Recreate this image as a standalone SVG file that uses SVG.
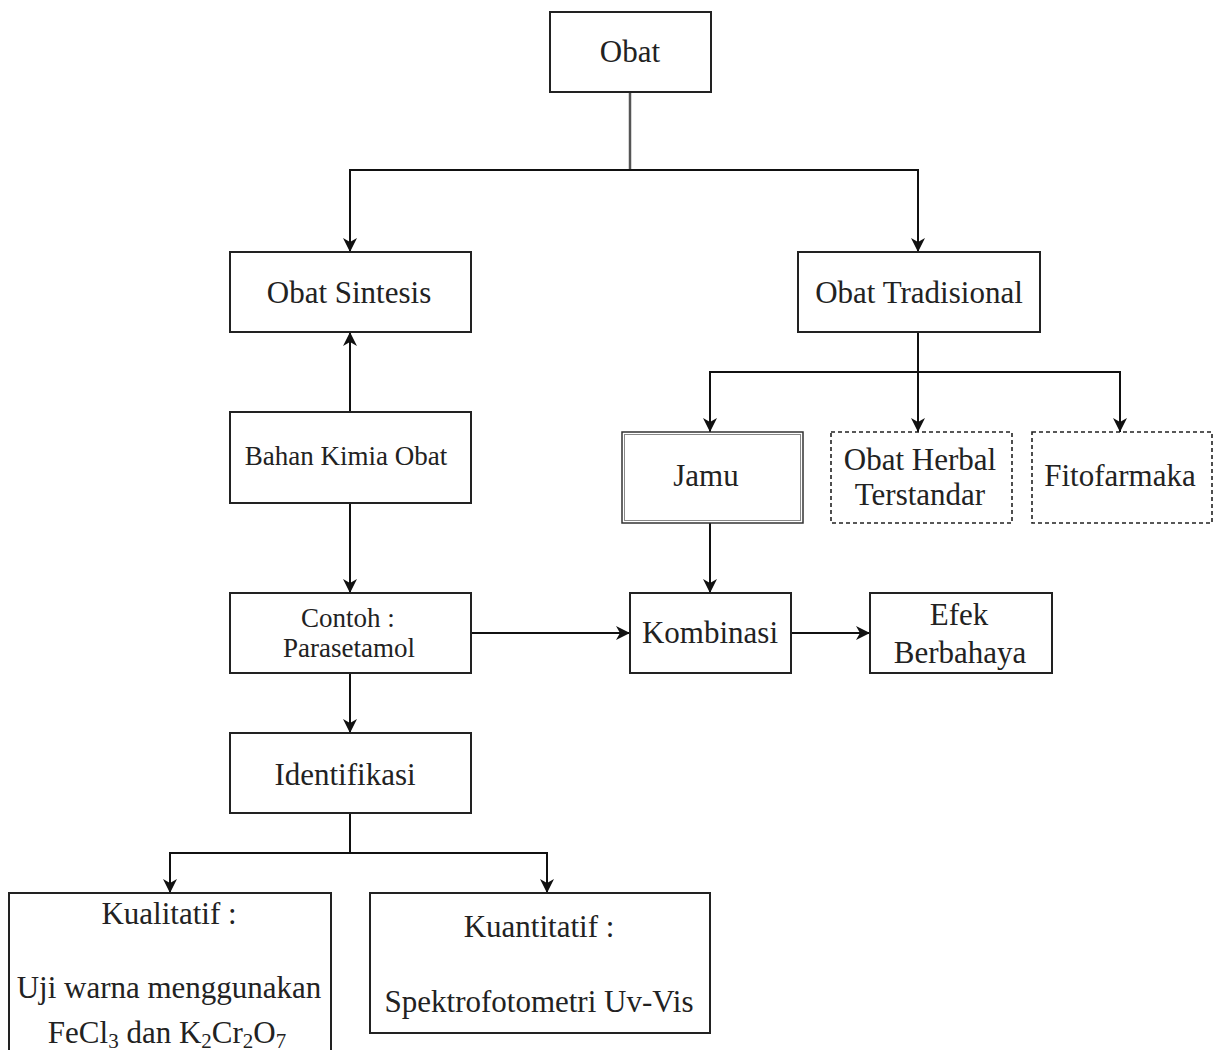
<svg xmlns="http://www.w3.org/2000/svg" width="1220" height="1050" viewBox="0 0 1220 1050" font-family="'Liberation Serif', 'Times New Roman', serif">
<style>
.box{fill:#fff;stroke:#222;stroke-width:2}
.dash{fill:#fff;stroke:#222;stroke-width:1.6;stroke-dasharray:4 3}
text{font-family:'Liberation Serif','Times New Roman',serif;font-size:31px;fill:#222;text-anchor:middle}
.s{font-size:27px}
.sub{font-size:21px}
.c{fill:none;stroke:#111;stroke-width:2}
</style>
<defs>
<marker id="a" viewBox="0 0 14 14" refX="14" refY="7" markerWidth="14" markerHeight="14" markerUnits="userSpaceOnUse" orient="auto">
<path d="M0,0 L14,7 L0,14 L4,7 Z" fill="#111"/>
</marker>
</defs>
<g id="connectors">
<path class="c" d="M630,92 V170" style="stroke:#555;stroke-width:2.5"/>
<path class="c" d="M630,170 H350 V252" marker-end="url(#a)"/>
<path class="c" d="M630,170 H918 V252" marker-end="url(#a)"/>
<path class="c" d="M350,412 V332" marker-end="url(#a)"/>
<path class="c" d="M350,503 V593" marker-end="url(#a)"/>
<path class="c" d="M350,673 V733" marker-end="url(#a)"/>
<path class="c" d="M350,813 V853 H170 V893" marker-end="url(#a)"/>
<path class="c" d="M350,853 H547 V893" marker-end="url(#a)"/>
<path class="c" d="M918,332 V372 H710 V432" marker-end="url(#a)"/>
<path class="c" d="M918,372 V432" marker-end="url(#a)"/>
<path class="c" d="M918,372 H1120 V432" marker-end="url(#a)"/>
<path class="c" d="M710,523 V593" marker-end="url(#a)"/>
<path class="c" d="M471,633 H630" marker-end="url(#a)"/>
<path class="c" d="M791,633 H870" marker-end="url(#a)"/>
</g>
<g id="obat"><rect class="box" x="550" y="12" width="161" height="80"/><text x="630" y="62">Obat</text></g>
<g id="obat-sintesis"><rect class="box" x="230" y="252" width="241" height="80"/><text x="349" y="303">Obat Sintesis</text></g>
<g id="obat-tradisional"><rect class="box" x="798" y="252" width="242" height="80"/><text x="919" y="303">Obat Tradisional</text></g>
<g id="bahan-kimia"><rect class="box" x="230" y="412" width="241" height="91"/><text class="s" x="346" y="465">Bahan Kimia Obat</text></g>
<g id="contoh"><rect class="box" x="230" y="593" width="241" height="80"/><text class="s" x="348" y="627">Contoh :</text><text class="s" x="349" y="657">Parasetamol</text></g>
<g id="identifikasi"><rect class="box" x="230" y="733" width="241" height="80"/><text x="345" y="785">Identifikasi</text></g>
<g id="jamu"><rect class="box" x="622" y="432" width="181" height="91" style="stroke:#333;stroke-width:1.5"/><rect x="624.5" y="434.5" width="176" height="86" fill="none" stroke="#888" stroke-width="1"/><text x="706" y="486">Jamu</text></g>
<g id="obat-herbal"><rect class="dash" x="831" y="432" width="181" height="91"/><text x="920" y="470">Obat Herbal</text><text x="920" y="505">Terstandar</text></g>
<g id="fitofarmaka"><rect class="dash" x="1032" y="432" width="180" height="91"/><text x="1120" y="486">Fitofarmaka</text></g>
<g id="kombinasi"><rect class="box" x="630" y="593" width="161" height="80"/><text x="710" y="643">Kombinasi</text></g>
<g id="efek"><rect class="box" x="870" y="593" width="182" height="80"/><text x="959" y="625">Efek</text><text x="960" y="663">Berbahaya</text></g>
<g id="kualitatif"><rect class="box" x="9" y="893" width="322" height="170"/><text x="169" y="924">Kualitatif :</text><text x="169" y="998">Uji warna menggunakan</text><text x="167" y="1043">FeCl<tspan class="sub" dy="5">3</tspan><tspan dy="-5"> dan K</tspan><tspan class="sub" dy="5">2</tspan><tspan dy="-5">Cr</tspan><tspan class="sub" dy="5">2</tspan><tspan dy="-5">O</tspan><tspan class="sub" dy="5">7</tspan></text></g>
<g id="kuantitatif"><rect class="box" x="370" y="893" width="340" height="140"/><text x="539" y="937">Kuantitatif :</text><text x="539" y="1012">Spektrofotometri Uv-Vis</text></g>
</svg>
